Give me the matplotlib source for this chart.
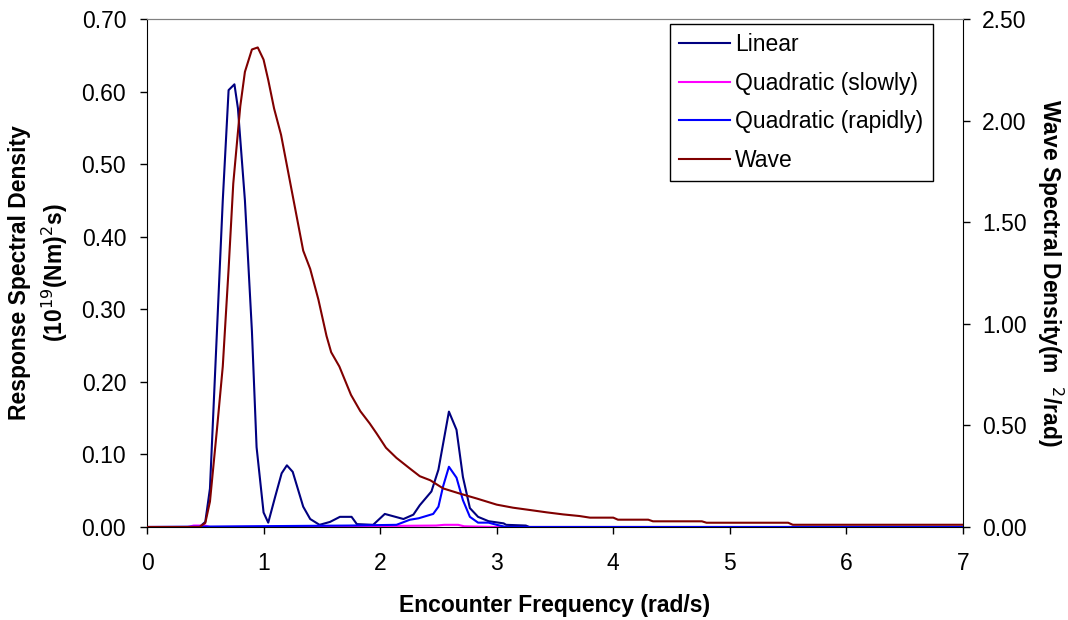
from matplotlib import pyplot as plt

plt.rcParams['font.family'] = ['Liberation Sans', 'DejaVu Sans']

# response spectra (left axis)
lin_x = [0, 0.45, 0.50, 0.54, 0.65, 0.70, 0.75, 0.78, 0.84, 0.90, 0.94, 1.00, 1.04,
         1.10, 1.155, 1.20, 1.25, 1.34, 1.40, 1.48, 1.57, 1.655, 1.755, 1.80, 1.94,
         2.04, 2.20, 2.285, 2.34, 2.44, 2.50, 2.59, 2.655, 2.71, 2.77, 2.84, 2.93,
         3.06, 3.08, 3.25, 3.28, 7.0]
lin_y = [0, 0, 0.007, 0.053, 0.45, 0.602, 0.610, 0.577, 0.45, 0.27, 0.11, 0.020, 0.006,
         0.042, 0.074, 0.085, 0.076, 0.028, 0.011, 0.003, 0.007, 0.014, 0.014, 0.004, 0.003,
         0.018, 0.011, 0.017, 0.030, 0.049, 0.079, 0.159, 0.134, 0.069, 0.026, 0.014, 0.008,
         0.005, 0.003, 0.002, 0, 0]

qs_x = [0, 0.35, 0.40, 0.50, 0.54, 1.74, 2.48, 2.55, 2.67, 2.72, 3.0, 7.0]
qs_y = [0, 0, 0.002, 0.002, 0, 0.001, 0.002, 0.003, 0.003, 0.001, 0, 0]

qr_x = [0, 1.74, 2.14, 2.255, 2.33, 2.455, 2.50, 2.54, 2.59, 2.655, 2.71, 2.77, 2.84,
        2.93, 3.00, 3.08, 7.0]
qr_y = [0, 0.002, 0.003, 0.010, 0.012, 0.018, 0.028, 0.056, 0.083, 0.068, 0.037, 0.014,
        0.006, 0.006, 0.003, 0, 0]

# wave spectrum (right axis)
wave_x = [0, 0.45, 0.50, 0.54, 0.60, 0.65, 0.70, 0.74, 0.80, 0.84, 0.90, 0.95, 1.00,
          1.04, 1.09, 1.15, 1.24, 1.34, 1.40, 1.47, 1.54, 1.58, 1.65, 1.70, 1.75, 1.83,
          1.91, 1.97, 2.05, 2.14, 2.25, 2.34, 2.43, 2.54, 2.68, 2.83, 3.00, 3.14, 3.28,
          3.43, 3.57, 3.71, 3.80, 4.00, 4.04, 4.30, 4.34, 4.76, 4.80, 5.50, 5.54, 7.00]
wave_y = [0, 0, 0.02, 0.125, 0.48, 0.79, 1.27, 1.69, 2.07, 2.24, 2.35, 2.36, 2.30,
          2.20, 2.06, 1.93, 1.66, 1.36, 1.27, 1.12, 0.94, 0.86, 0.79, 0.72, 0.65, 0.57,
          0.51, 0.46, 0.39, 0.34, 0.29, 0.25, 0.23, 0.19, 0.165, 0.14, 0.11, 0.095, 0.084,
          0.072, 0.062, 0.054, 0.046, 0.046, 0.036, 0.036, 0.028, 0.028, 0.021, 0.021,
          0.011, 0.011]

fs = 16.5

fig = plt.figure(figsize=(10.68, 6.2), dpi=100)
ax = fig.add_axes([147/1068, 1-527/620, 816/1068, 508/620])
ax2 = ax.twinx()

l1, = ax.plot(lin_x, lin_y, color='#000080', lw=1.5, label='Linear')
l2, = ax.plot(qs_x, qs_y, color='#FF00FF', lw=1.5, label='Quadratic (slowly)')
l3, = ax.plot(qr_x, qr_y, color='#0000FF', lw=1.5, label='Quadratic (rapidly)')
l4, = ax2.plot(wave_x, wave_y, color='#800000', lw=1.5, label='Wave')

ax.set_xlim(0, 7)
ax.set_ylim(0, 0.7)
ax2.set_ylim(0, 2.5)
ax.set_xticks(range(8))
ax.set_yticks([i/10 for i in range(8)])
ax.set_yticklabels(['%.2f' % (i/10) for i in range(8)])
ax2.set_yticks([i*0.5 for i in range(6)])
ax2.set_yticklabels(['%.2f' % (i*0.5) for i in range(6)])

for a in (ax, ax2):
    a.tick_params(labelsize=fs, length=5, width=1, direction='out')
    a.spines['top'].set_color('#808080')
ax.tick_params(axis='x', pad=13)
ax.tick_params(axis='y', pad=10)
ax2.tick_params(axis='y', pad=8.5)
ax.spines['right'].set_visible(False)
ax2.spines['left'].set_visible(False)
ax2.spines['bottom'].set_visible(False)

ax.set_xlabel('Encounter Frequency (rad/s)', fontsize=fs, fontweight='bold', labelpad=14)
ax.set_ylabel('Response Spectral Density\n(10$^{19}$(Nm)$^2$s)', fontsize=fs,
              fontweight='bold', labelpad=8, linespacing=1.4)
ax2.set_ylabel('Wave Spectral Density(m  $^2$/rad)', fontsize=fs, fontweight='bold',
               rotation=270, labelpad=28)

leg = ax2.legend(handles=[l1, l2, l3, l4], loc='upper left', fontsize=fs,
                 bbox_to_anchor=(670/1068, 1-24/620), bbox_transform=fig.transFigure,
                 borderaxespad=0, fancybox=False, edgecolor='black', framealpha=1,
                 handlelength=2.2, handletextpad=0.25, labelspacing=0.68, borderpad=0.4)
leg.get_frame().set_linewidth(1)

plt.savefig('out.png', dpi=100)
